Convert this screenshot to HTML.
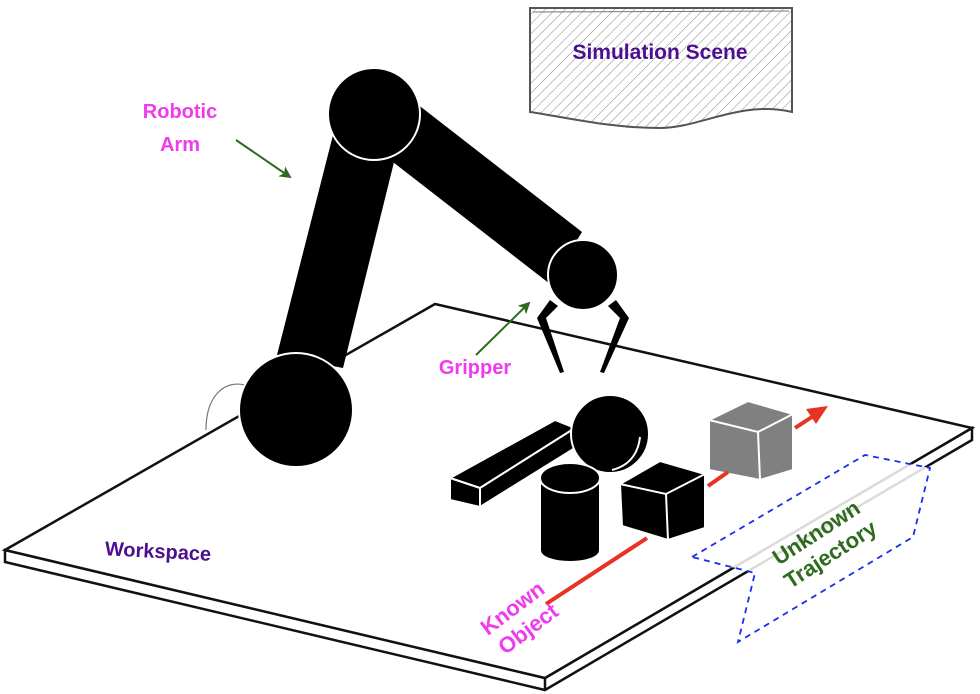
<!DOCTYPE html>
<html><head><meta charset="utf-8"><style>
html,body{margin:0;padding:0;background:#fff;}
svg{display:block;}
text{font-family:"Liberation Sans",Arial,sans-serif;font-weight:bold;}
</style></head><body>
<svg width="980" height="694" viewBox="0 0 980 694" xmlns="http://www.w3.org/2000/svg">
<defs>
<pattern id="h" width="7" height="7" patternUnits="userSpaceOnUse" patternTransform="rotate(45)">
<line x1="0" y1="0" x2="0" y2="7" stroke="#888" stroke-width="1"/>
</pattern>
<marker id="ga" markerWidth="12" markerHeight="12" refX="10" refY="6" orient="auto" markerUnits="userSpaceOnUse"><path d="M0,0 L12,6 L0,12 L3,6z" fill="#2e6b1e"/></marker>
</defs>
<!-- simulation scene doc -->
<path d="M530,8 L792,8 L792,112 C740,100 700,128 660,128 C610,128 570,118 530,112 Z" fill="url(#h)" stroke="#555" stroke-width="2"/>
<path d="M533,12 L789,11" stroke="#777" stroke-width="1" fill="none"/>
<text x="660" y="59" font-size="21" fill="#4b0f8f" text-anchor="middle">Simulation Scene</text>
<!-- table -->
<path d="M5,550 L545,678 L972,428 L972,440 L545,690 L5,562 Z" fill="#fff" stroke="#111" stroke-width="2.5"/>
<path d="M5,550 L435,304 L972,428 L545,678 Z" fill="#fff" stroke="#111" stroke-width="2.5"/>
<line x1="545" y1="678" x2="545" y2="690" stroke="#111" stroke-width="2.5"/>
<!-- small arc near base -->
<path d="M206,430 C206,395 225,380 245,385" fill="none" stroke="#777" stroke-width="1.2"/>
<!-- arm -->
<polygon points="333,135 397,150 343,368 277,355" fill="#000"/>
<polygon points="412,100 582,232 550,284 380,152" fill="#000"/>
<circle cx="296" cy="410" r="57" fill="#000" stroke="#fff" stroke-width="2"/>
<circle cx="374" cy="114" r="46" fill="#000" stroke="#fff" stroke-width="2"/>
<circle cx="583" cy="275" r="35" fill="#000" stroke="#fff" stroke-width="2"/>
<!-- gripper claws -->
<polygon points="550,300 558,306 546,318 564,372 560,373 537,318" fill="#000"/>
<polygon points="616,300 608,306 620,318 600,372 604,373 629,318" fill="#000"/>
<!-- objects -->
<polygon points="450,478 555,420 575,428 480,488" fill="#000" stroke="#fff" stroke-width="2"/>
<polygon points="480,488 575,428 575,448 480,507" fill="#000" stroke="#fff" stroke-width="2"/>
<polygon points="450,478 480,488 480,507 450,500" fill="#000" stroke="#fff" stroke-width="2"/>
<circle cx="610" cy="434" r="39" fill="#000" stroke="#fff" stroke-width="2"/>
<path d="M640,437 C638,455 628,466 612,470" fill="none" stroke="#fff" stroke-width="2"/>
<path d="M540,478 L540,550 C540,566 600,566 600,550 L600,478 Z" fill="#000" stroke="#fff" stroke-width="2"/>
<ellipse cx="570" cy="478" rx="30" ry="15" fill="#000" stroke="#fff" stroke-width="2"/>
<polygon points="620,484 660,461 705,474 705,528 668,540 622,526" fill="#000" stroke="#fff" stroke-width="2"/>
<polyline points="620,484 666,494 705,474" fill="none" stroke="#fff" stroke-width="2"/>
<line x1="666" y1="494" x2="668" y2="540" stroke="#fff" stroke-width="2"/>
<polygon points="709,420 748,401 793,414 793,470 760,480 709,470" fill="#808080" stroke="#fff" stroke-width="2"/>
<polyline points="709,420 758,432 793,414" fill="none" stroke="#fff" stroke-width="2"/>
<line x1="758" y1="432" x2="760" y2="480" stroke="#fff" stroke-width="2"/>
<!-- red trajectory -->
<line x1="546" y1="604" x2="647" y2="538" stroke="#e63323" stroke-width="4"/>
<line x1="708" y1="486" x2="728" y2="472" stroke="#e63323" stroke-width="4"/>
<line x1="795" y1="428" x2="815" y2="415" stroke="#e63323" stroke-width="4"/>
<polygon points="828,406 806,409 816,424" fill="#e63323"/>
<!-- dashed box -->
<polygon points="692,557 865,455 930,468 913,537 738,642 755,573" fill="#fff" fill-opacity="0.85" stroke="#1d2ee8" stroke-width="1.8" stroke-dasharray="6,5"/>
<!-- labels -->
<text x="180" y="118" font-size="20" fill="#ee3bee" text-anchor="middle">Robotic</text>
<text x="180" y="151" font-size="20" fill="#ee3bee" text-anchor="middle">Arm</text>
<line x1="236" y1="140" x2="290" y2="177" stroke="#2e6b1e" stroke-width="2" marker-end="url(#ga)"/>
<text x="475" y="374" font-size="20" fill="#ee3bee" text-anchor="middle">Gripper</text>
<line x1="476" y1="355" x2="529" y2="303" stroke="#2e6b1e" stroke-width="2" marker-end="url(#ga)"/>
<text x="158" y="558" font-size="20" fill="#4b0f8f" text-anchor="middle" transform="rotate(3 158 552)">Workspace</text>
<g transform="translate(520,618) rotate(-37)">
<text x="0" y="-5" font-size="22" fill="#ee3bee" text-anchor="middle">Known</text>
<text x="0" y="21" font-size="22" fill="#ee3bee" text-anchor="middle">Object</text>
</g>
<g transform="translate(823,543) rotate(-33)">
<text x="0" y="-5" font-size="22" fill="#2e6b1e" text-anchor="middle">Unknown</text>
<text x="0" y="21" font-size="22" fill="#2e6b1e" text-anchor="middle">Trajectory</text>
</g>
</svg>
</body></html>
